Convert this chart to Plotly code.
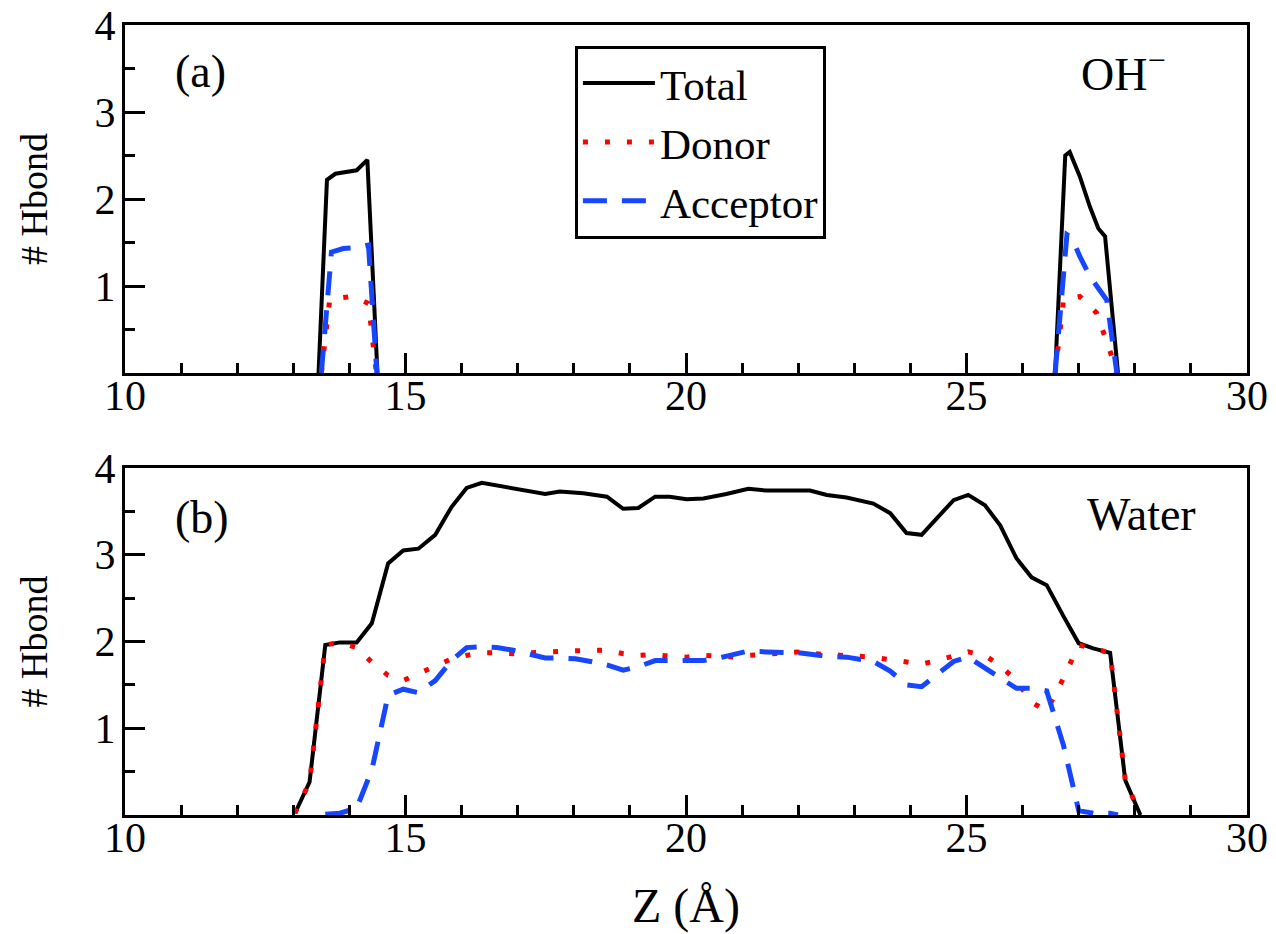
import plotly.graph_objects as go

# ---------------- Panel (a): OH- ----------------
# None separates the two interfacial peaks (values are zero in between)
a_total_x = [13.45, 13.60, 13.75, 13.95, 14.13, 14.32, 14.50, None,
             26.58, 26.76, 26.84, 27.02, 27.20, 27.35, 27.47, 27.70]
a_total_y = [0, 2.22, 2.29, 2.31, 2.33, 2.45, 0, None,
             0, 2.50, 2.54, 2.26, 1.91, 1.66, 1.57, 0]

a_donor_x = [13.50, 13.65, 14.07, 14.34, 14.48, None,
             26.58, 26.73, 27.02, 27.32, 27.59, 27.66]
a_donor_y = [0, 0.85, 0.88, 0.80, 0, None,
             0, 0.84, 0.88, 0.69, 0.19, 0]

a_acc_x = [13.50, 13.68, 13.89, 14.13, 14.34, 14.49, None,
           26.58, 26.79, 26.88, 27.02, 27.20, 27.38, 27.50, 27.68]
a_acc_y = [0, 1.39, 1.43, 1.44, 1.47, 0, None,
           0, 1.59, 1.55, 1.34, 1.11, 0.95, 0.84, 0]

# ---------------- Panel (b): Water ----------------
b_total_x = [13.03, 13.29, 13.57, 13.83, 14.13, 14.40, 14.69, 14.96, 15.23,
             15.53, 15.82, 16.09, 16.36, 16.92, 17.49, 17.75, 18.17, 18.59, 18.88,
             19.15, 19.45, 19.71, 20.01, 20.31, 20.72, 21.11, 21.44, 21.85, 22.21,
             22.51, 22.86, 23.34, 23.64, 23.93, 24.20, 24.47, 24.77, 25.03, 25.33,
             25.60, 25.89, 26.16, 26.43, 26.73, 27.00, 27.26, 27.56, 27.83, 28.10]
b_total_y = [0.02, 0.38, 1.96, 1.99, 1.99, 2.21, 2.90, 3.05, 3.07,
             3.23, 3.55, 3.77, 3.83, 3.77, 3.70, 3.73, 3.71, 3.67, 3.53,
             3.54, 3.67, 3.67, 3.64, 3.65, 3.70, 3.76, 3.74, 3.74, 3.74,
             3.69, 3.66, 3.59, 3.48, 3.25, 3.23, 3.42, 3.63, 3.69, 3.57,
             3.34, 2.96, 2.74, 2.65, 2.29, 1.98, 1.92, 1.87, 0.40, 0]

b_donor_x = [13.03, 13.29, 13.57, 13.83, 14.13, 14.40, 14.69, 14.96, 15.23,
             15.53, 15.82, 16.09, 16.36, 16.63, 16.92, 17.20, 17.49, 17.75, 18.03,
             18.30, 18.59, 18.88, 19.15, 19.45, 19.71, 20.01, 20.31, 20.58, 20.85,
             21.11, 21.44, 21.72, 22.00, 22.26, 22.51, 22.86, 23.10, 23.34, 23.64,
             23.93, 24.20, 24.47, 24.77, 25.03, 25.33, 25.60, 25.89, 26.16, 26.43,
             26.73, 27.00, 27.26, 27.56, 27.83, 28.10]
b_donor_y = [0.02, 0.38, 1.96, 1.99, 1.93, 1.76, 1.61, 1.55, 1.63,
             1.72, 1.80, 1.84, 1.87, 1.87, 1.86, 1.87, 1.88, 1.88, 1.89,
             1.90, 1.90, 1.86, 1.84, 1.85, 1.83, 1.82, 1.84, 1.83, 1.82,
             1.84, 1.85, 1.86, 1.88, 1.86, 1.85, 1.83, 1.82, 1.82, 1.79,
             1.76, 1.74, 1.78, 1.84, 1.88, 1.84, 1.72, 1.55, 1.30, 1.20,
             1.58, 1.96, 1.92, 1.87, 0.40, 0]

b_acc_x = [13.57, 13.83, 14.13, 14.40, 14.69, 14.96, 15.23, 15.53, 15.82,
           16.09, 16.36, 16.63, 16.92, 17.20, 17.49, 17.75, 18.03, 18.30, 18.59,
           18.88, 19.15, 19.45, 19.71, 20.01, 20.31, 20.58, 20.85, 21.11, 21.44,
           21.72, 22.00, 22.26, 22.51, 22.86, 23.10, 23.34, 23.64, 23.93, 24.20,
           24.47, 24.77, 25.03, 25.33, 25.60, 25.89, 26.16, 26.43, 26.73, 27.00,
           27.26, 27.56, 27.70]
b_acc_y = [0.01, 0.02, 0.08, 0.52, 1.38, 1.45, 1.41, 1.55, 1.78,
           1.93, 1.94, 1.93, 1.90, 1.86, 1.81, 1.81, 1.80, 1.77, 1.73,
           1.67, 1.71, 1.78, 1.78, 1.78, 1.78, 1.81, 1.85, 1.89, 1.88,
           1.88, 1.87, 1.85, 1.83, 1.82, 1.80, 1.77, 1.66, 1.50, 1.48,
           1.62, 1.77, 1.82, 1.70, 1.58, 1.46, 1.46, 1.43, 0.80, 0.05,
           0.02, 0.02, 0]

series_names = ["Total", "Donor", "Acceptor"]
x_ticks = [10, 15, 20, 25, 30]
y_ticks = [1, 2, 3, 4]

FONT = "Liberation Serif"
styles = {
    "Total": dict(color="black", width=4, dash="solid"),
    "Donor": dict(color="#ff0000", width=5, dash="5px,17px"),
    "Acceptor": dict(color="#1746ff", width=5, dash="24px,15px"),
}

fig = go.Figure()
panels = [
    ("x", "y", [(a_total_x, a_total_y), (a_donor_x, a_donor_y), (a_acc_x, a_acc_y)], True),
    ("x2", "y2", [(b_total_x, b_total_y), (b_donor_x, b_donor_y), (b_acc_x, b_acc_y)], False),
]
for xa, ya, data, show in panels:
    for name, (xs, ys) in zip(series_names, data):
        fig.add_trace(go.Scatter(
            x=xs, y=ys, mode="lines", name=name, xaxis=xa, yaxis=ya,
            line=styles[name], showlegend=show, connectgaps=False,
        ))

axis_common = dict(
    showline=True, linecolor="black", linewidth=3, mirror=True,
    ticks="inside", tickcolor="black", tickwidth=3, ticklen=20,
    showgrid=False, zeroline=False, automargin=False,
    tickfont=dict(family=FONT, size=42, color="black"),
)
xaxis_common = dict(axis_common, range=[10, 30], tickmode="array", tickvals=x_ticks,
                    minor=dict(tickmode="linear", tick0=10, dtick=1, ticks="inside",
                               ticklen=10, tickwidth=3, tickcolor="black", showgrid=False),
                    ticklabelstandoff=-16)
yaxis_common = dict(axis_common, range=[0, 4], tickmode="array", tickvals=y_ticks,
                    minor=dict(tickmode="linear", tick0=0, dtick=0.5, ticks="inside",
                               ticklen=10, tickwidth=3, tickcolor="black", showgrid=False),
                    ticklabelstandoff=-2,
                    title=dict(text="# Hbond", font=dict(family=FONT, size=38, color="black"),
                               standoff=36))

fig.update_layout(
    width=1276, height=934,
    margin=dict(l=125, r=29, t=25, b=119),
    paper_bgcolor="white", plot_bgcolor="white",
    xaxis=dict(xaxis_common, domain=[0, 1], anchor="y"),
    yaxis=dict(yaxis_common, domain=[0.5595, 1], anchor="x"),
    xaxis2=dict(xaxis_common, domain=[0, 1], anchor="y2",
                title=dict(text="Z (Å)", font=dict(family=FONT, size=48, color="black"),
                           standoff=28)),
    yaxis2=dict(yaxis_common, domain=[0, 0.4392], anchor="x2"),
    legend=dict(
        x=0.401, y=0.974, xanchor="left", yanchor="top",
        bordercolor="black", borderwidth=3, bgcolor="white",
        font=dict(family=FONT, size=43, color="black"),
        itemwidth=72, tracegroupgap=0,
    ),
    showlegend=True,
)

ann_font = dict(family=FONT, size=46, color="black")
fig.add_annotation(x=10.86, y=3.47, xref="x", yref="y", text="(a)", showarrow=False,
                   xanchor="left", yanchor="middle", font=ann_font)
fig.add_annotation(x=28.59, y=3.47, xref="x", yref="y", text="OH<sup>−</sup>", showarrow=False,
                   xanchor="right", yanchor="middle", font=ann_font)
fig.add_annotation(x=10.86, y=3.43, xref="x2", yref="y2", text="(b)", showarrow=False,
                   xanchor="left", yanchor="middle", font=ann_font)
fig.add_annotation(x=29.13, y=3.47, xref="x2", yref="y2", text="Water", showarrow=False,
                   xanchor="right", yanchor="middle", font=ann_font)

fig.write_html("out.html")
